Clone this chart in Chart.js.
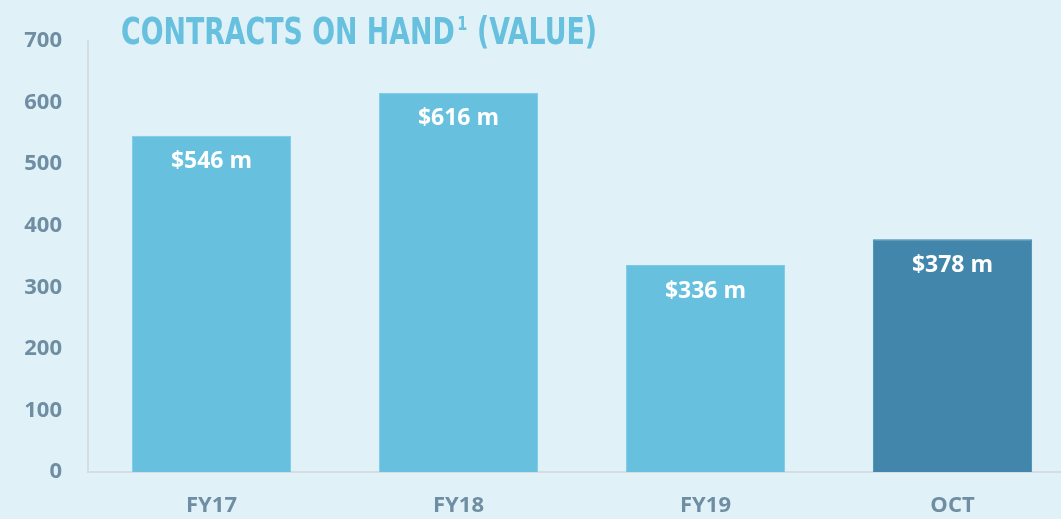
<!DOCTYPE html>
<html>
<head>
<meta charset="utf-8">
<script src="https://cdn.jsdelivr.net/npm/chart.js@4/dist/chart.umd.min.js"></script>
<style>
  html, body { margin: 0; padding: 0; background: #e0f2f8; overflow: hidden; }
  #wrap { width: 1076px; height: 519px; position: relative; }
</style>
</head>
<body>
<div id="wrap"><canvas id="myChart"></canvas></div>
<script>
const categories = ["FY17", "FY18", "FY19", "OCT"];
const values = [546, 616, 336, 378];
const valueLabels = ["$546 m", "$616 m", "$336 m", "$378 m"];
const barColors = ["#67c0de", "#67c0de", "#67c0de", "#4287ab"];
const barBorders = ["#7cc9e3", "#7cc9e3", "#7cc9e3", "#4287ab"];
const yTicks = [0, 100, 200, 300, 400, 500, 600, 700];

const tickColor = "#6f8ea3";
const tickFont = { family: "'Open Sans', sans-serif", size: 22, weight: "bold" };

// white value labels inside the top of each bar
const barLabels = {
  id: "barLabels",
  afterDatasetsDraw(chart) {
    const ctx = chart.ctx;
    const meta = chart.getDatasetMeta(0);
    ctx.save();
    ctx.fillStyle = "#ffffff";
    ctx.font = "bold 23px 'Open Sans', sans-serif";
    ctx.textAlign = "center";
    ctx.textBaseline = "middle";
    meta.data.forEach((bar, i) => {
      ctx.fillText(valueLabels[i], bar.x, bar.y + 26);
    });
    ctx.restore();
  }
};

// condensed title with superscript, squeezed horizontally
const titlePlugin = {
  id: "titlePlugin",
  afterDraw(chart) {
    const ctx = chart.ctx;
    const big = "bold 37px 'DejaVu Sans Condensed', sans-serif";
    const small = "bold 20px 'DejaVu Sans Condensed', sans-serif";
    const a = "CONTRACTS ON HAND", b = "(VALUE)";
    ctx.save();
    ctx.font = big;
    const wa = ctx.measureText(a).width, wb = ctx.measureText(b).width;
    ctx.font = small;
    const w1 = ctx.measureText("1").width;
    const total = wa + 3 + w1 + 12 + wb;
    const sx = 476 / total;
    ctx.translate(121, 44);
    ctx.scale(sx, 1);
    ctx.fillStyle = "#67c0de";
    ctx.textBaseline = "alphabetic";
    ctx.textAlign = "left";
    ctx.font = big;
    ctx.fillText(a, 0, 0);
    ctx.font = small;
    ctx.fillText("1", wa + 3, -14);
    ctx.font = big;
    ctx.fillText(b, wa + 3 + w1 + 12, 0);
    ctx.restore();
  }
};

new Chart("myChart", {
  type: "bar",
  data: {
    labels: categories,
    datasets: [{
      data: values,
      backgroundColor: barColors,
      borderColor: barBorders,
      borderWidth: 1,
      barPercentage: 0.645,
      categoryPercentage: 1.0
    }]
  },
  options: {
    responsive: true,
    maintainAspectRatio: false,
    animation: false,
    layout: { padding: { top: 41, left: 0, right: 0, bottom: 0 } },
    plugins: {
      legend: { display: false },
      tooltip: { enabled: false }
    },
    scales: {
      x: {
        grid: { display: false, drawTicks: false },
        border: { color: "#d6dde0", width: 2 },
        ticks: { color: tickColor, font: tickFont, padding: 21 },
        afterFit: (scale) => { scale.height = 47; }
      },
      y: {
        min: 0,
        max: 700,
        afterBuildTicks: (scale) => { scale.ticks = yTicks.map(v => ({ value: v })); },
        grid: { display: false, drawTicks: false },
        border: { color: "#d6dde0", width: 2 },
        ticks: { color: tickColor, font: tickFont, padding: 26 },
        afterFit: (scale) => { scale.width = 88; }
      }
    }
  },
  plugins: [barLabels, titlePlugin]
});
</script>
</body>
</html>
